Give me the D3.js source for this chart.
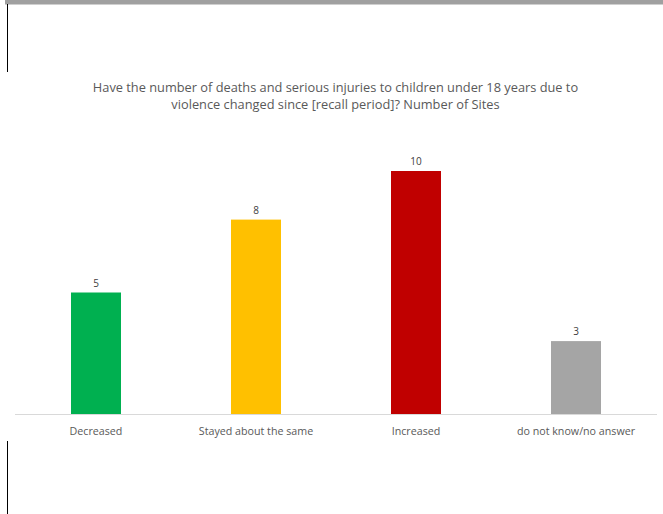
<!DOCTYPE html>
<html><head><meta charset="utf-8">
<script src="https://cdn.jsdelivr.net/npm/d3@7"></script>
<style>html,body{margin:0;padding:0;background:#fff;}svg{display:block;}</style>
</head><body>
<script>
const categories = ["Decreased", "Stayed about the same", "Increased", "do not know/no answer"];
const values = [5, 8, 10, 3];
const colors = ["#00B050", "#FFC000", "#C00000", "#A5A5A5"];
const titleLines = ["Have the number of deaths and serious injuries to children under 18 years due to", "violence changed since [recall period]? Number of Sites"];

const W = 663, H = 514;
const svg = d3.select("body").append("svg").attr("width", W).attr("height", H);
const font = "'Open Sans', 'Liberation Sans', sans-serif";

// frame decorations
svg.append("rect").attr("x", 5).attr("y", 0).attr("width", W - 5).attr("height", 4.5).attr("fill", "#A0A0A0");
svg.append("line").attr("x1", 7.5).attr("x2", 7.5).attr("y1", 4).attr("y2", 72).attr("stroke", "#000").attr("stroke-width", 1);
svg.append("line").attr("x1", 7.5).attr("x2", 7.5).attr("y1", 441).attr("y2", 514).attr("stroke", "#000").attr("stroke-width", 1);

const x = d3.scaleBand().domain(categories).range([16, 656]).paddingInner(0.6875).paddingOuter(0.34375);
const y = d3.scaleLinear().domain([0, 10]).range([414, 171]);

// title (one text element per line)
svg.selectAll("text.title").data(titleLines).join("text").attr("class", "title")
  .attr("x", 335.5).attr("y", (d, i) => 92 + i * 16.5)
  .attr("text-anchor", "middle").attr("fill", "#595959")
  .style("font-family", font).style("font-size", "12.8px").text(d => d);

// baseline
svg.append("line").attr("x1", 15).attr("x2", 657).attr("y1", 414.5).attr("y2", 414.5).attr("stroke", "#D9D9D9").attr("stroke-width", 1);

const data = categories.map((c, i) => ({c, v: values[i], col: colors[i]}));
svg.selectAll("rect.bar").data(data).join("rect").attr("class", "bar")
  .attr("x", d => x(d.c)).attr("width", x.bandwidth())
  .attr("y", d => y(d.v)).attr("height", d => y(0) - y(d.v))
  .attr("fill", d => d.col);

svg.selectAll("text.val").data(data).join("text").attr("class", "val")
  .attr("x", d => x(d.c) + x.bandwidth() / 2).attr("y", d => y(d.v) - 6)
  .attr("text-anchor", "middle").attr("fill", "#404040")
  .style("font-family", font).style("font-size", "10px").text(d => d.v);

const xAxis = svg.append("g").attr("transform", "translate(0,414)")
  .call(d3.axisBottom(x).tickSize(0).tickPadding(13));
xAxis.select(".domain").remove();
xAxis.selectAll("text").attr("fill", "#595959").style("font-family", font).style("font-size", "10.7px");
</script>
</body></html>
